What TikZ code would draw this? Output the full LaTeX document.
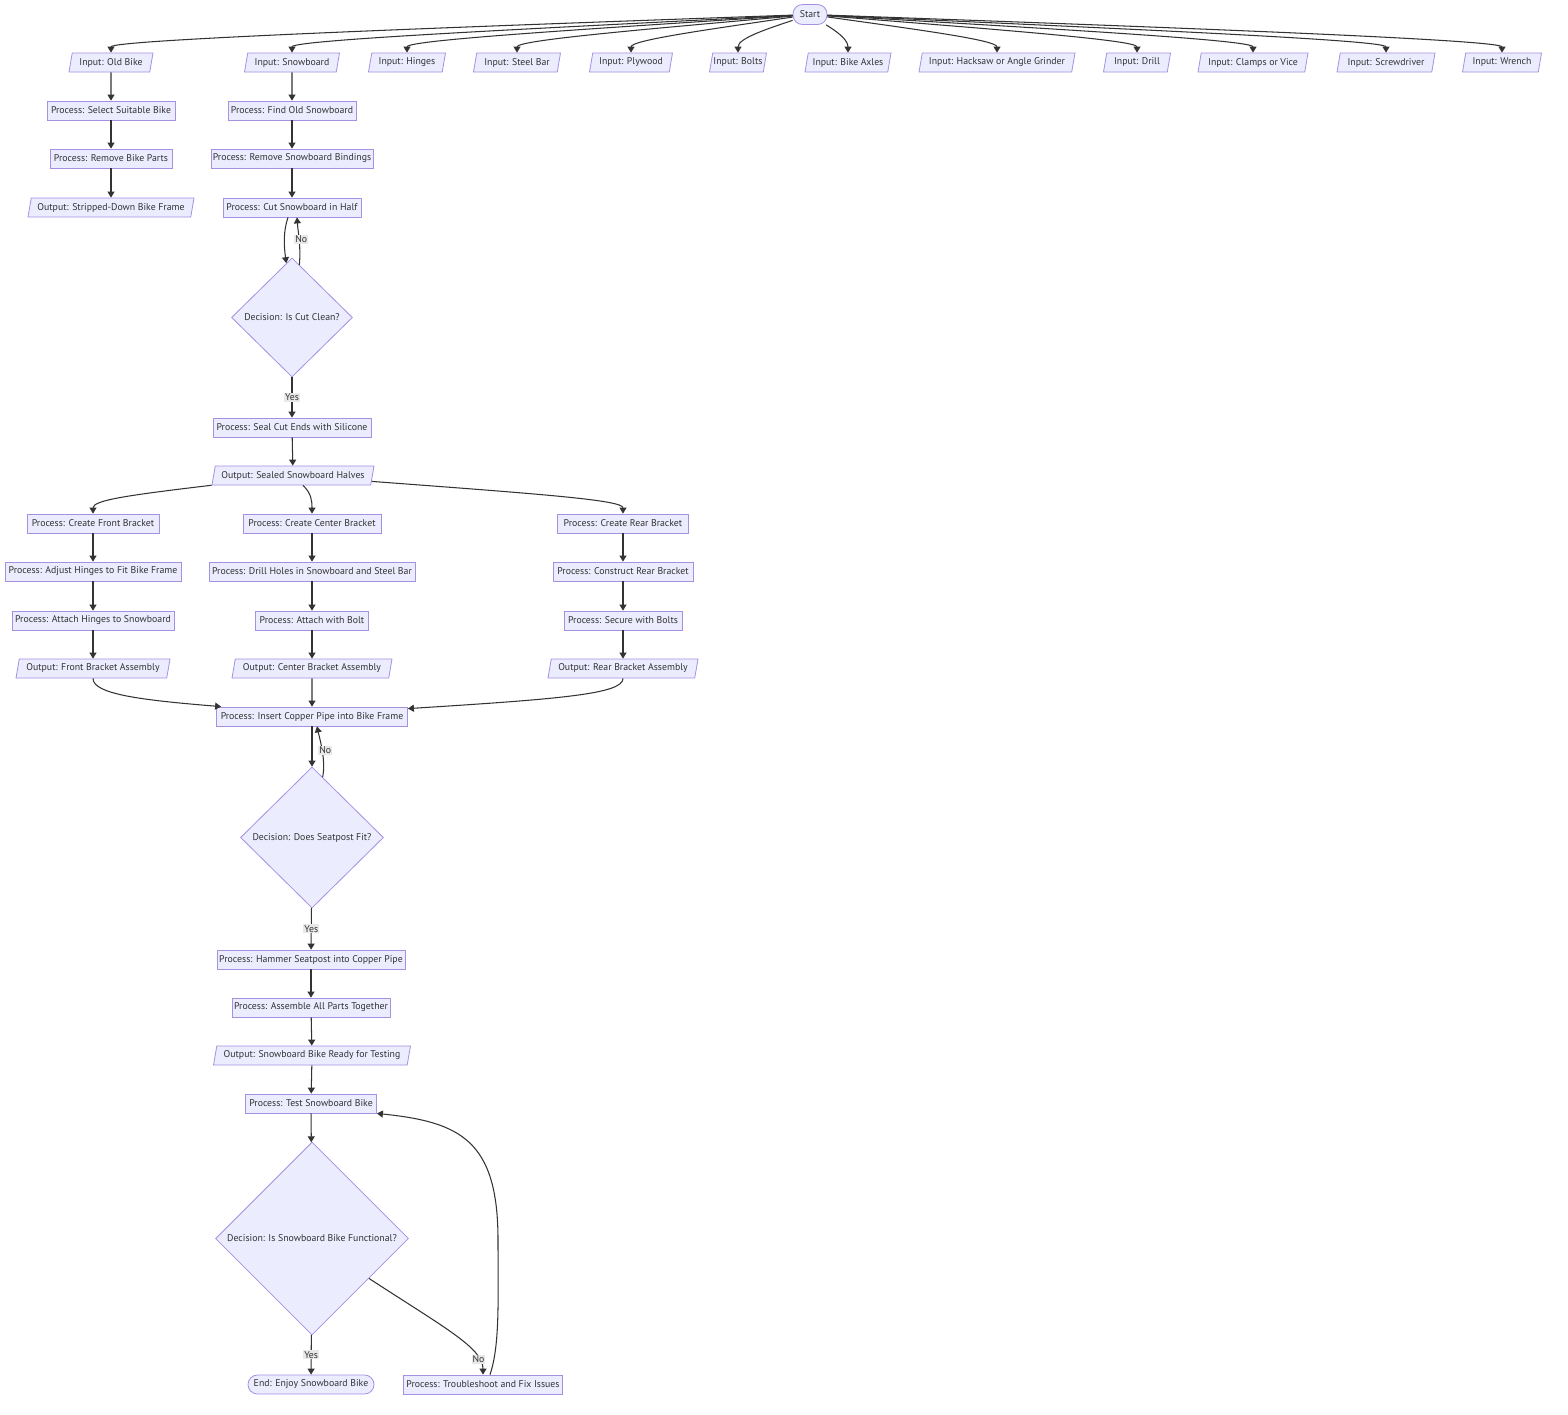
\documentclass[tikz,border=0pt]{standalone}
\usepackage{fontspec}
\setmainfont{PT Sans}
\usetikzlibrary{shapes.geometric,arrows.meta,calc}
\definecolor{mfill}{HTML}{ECECFF}
\definecolor{mborder}{HTML}{A590E2}
\definecolor{mline}{HTML}{333333}
\definecolor{mtext}{HTML}{333333}
\definecolor{mlbl}{HTML}{E8E8E8}
\begin{document}
\begin{tikzpicture}[x=1pt,y=-1pt,
  base/.style={draw=mborder, fill=mfill, line width=0.8pt, text=mtext, font=\fontsize{9.8}{11}\selectfont, inner sep=0pt, minimum height=19pt},
  proc/.style={base, rectangle},
  io/.style={base, trapezium, trapezium left angle=70, trapezium right angle=110, trapezium stretches body},
  term/.style={base, rectangle, rounded corners=9.5pt},
  dec/.style={base, diamond, aspect=1},
  arr/.style={draw=mline, line width=1.05pt, -{Triangle[length=6pt,width=7pt]}},
  lbl/.style={fill=mlbl, text=mtext, inner sep=1pt, font=\fontsize{9.8}{11}\selectfont}
]
\useasboundingbox (0,0) rectangle (1568,1414);
\fill[white] (0,0) rectangle (1568,1414);

% nodes
\node[term, minimum width=34pt, minimum height=20pt] (start) at (810,14.5) {Start};
\node[io, minimum width=84pt] (ob) at (111,62.5) {Input: Old Bike};
\node[io, minimum width=95pt] (sb) at (292,62.5) {Input: Snowboard};
\node[io, minimum width=77pt] (hi) at (407,62.5) {Input: Hinges};
\node[io, minimum width=87pt] (st) at (517,62.5) {Input: Steel Bar};
\node[io, minimum width=83pt] (pw) at (631,62.5) {Input: Plywood};
\node[io, minimum width=57pt] (bo) at (738,62.5) {Input: Bolts};
\node[io, minimum width=86pt] (ax) at (848,62.5) {Input: Bike Axles};
\node[io, minimum width=156pt] (hs) at (997,62.5) {Input: Hacksaw or Angle Grinder};
\node[io, minimum width=67pt] (dr) at (1137,62.5) {Input: Drill};
\node[io, minimum width=110pt] (cv) at (1253,62.5) {Input: Clamps or Vice};
\node[io, minimum width=98pt] (sd) at (1386,62.5) {Input: Screwdriver};
\node[io, minimum width=79pt] (wr) at (1502,62.5) {Input: Wrench};

\node[proc, minimum width=128pt] (ssb) at (111,110.5) {Process: Select Suitable Bike};
\node[proc, minimum width=122pt] (rbp) at (111,158.5) {Process: Remove Bike Parts};
\node[io, minimum width=166pt] (sdf) at (111,207.5) {Output: Stripped-Down Bike Frame};

\node[proc, minimum width=128pt] (fos) at (292,110.5) {Process: Find Old Snowboard};
\node[proc, minimum width=162pt] (rsb) at (292,158.5) {Process: Remove Snowboard Bindings};
\node[proc, minimum width=138pt] (cut) at (292,207.5) {Process: Cut Snowboard in Half};
\node[dec, minimum width=121pt, minimum height=119pt] (d1) at (292,317.5) {Decision: Is Cut Clean?};
\node[proc, minimum width=158pt] (seal) at (292,427.5) {Process: Seal Cut Ends with Silicone};
\node[io, minimum width=162pt] (sh) at (293,475.5) {Output: Sealed Snowboard Halves};

\node[proc, minimum width=132pt] (cfb) at (93,523.5) {Process: Create Front Bracket};
\node[proc, minimum width=176pt] (ahf) at (93,571.5) {Process: Adjust Hinges to Fit Bike Frame};
\node[proc, minimum width=162pt] (ahs) at (93,620.5) {Process: Attach Hinges to Snowboard};
\node[io, minimum width=154pt] (ofb) at (93,668.5) {Output: Front Bracket Assembly};

\node[proc, minimum width=138pt] (ccb) at (312,523.5) {Process: Create Center Bracket};
\node[proc, minimum width=206pt] (dh) at (312,571.5) {Process: Drill Holes in Snowboard and Steel Bar};
\node[proc, minimum width=113pt] (awb) at (312,620.5) {Process: Attach with Bolt};
\node[io, minimum width=160pt] (ocb) at (312,668.5) {Output: Center Bracket Assembly};

\node[proc, minimum width=131pt] (crb) at (623,523.5) {Process: Create Rear Bracket};
\node[proc, minimum width=140pt] (cr) at (623,571.5) {Process: Construct Rear Bracket};
\node[proc, minimum width=118pt] (swb) at (623,620.5) {Process: Secure with Bolts};
\node[io, minimum width=150pt] (orb) at (623,668.5) {Output: Rear Bracket Assembly};

\node[proc, minimum width=191pt] (ins) at (312,716.5) {Process: Insert Copper Pipe into Bike Frame};
\node[dec, minimum width=143pt, minimum height=141pt] (d2) at (312,837.5) {Decision: Does Seatpost Fit?};
\node[proc, minimum width=188pt] (ham) at (311,959.5) {Process: Hammer Seatpost into Copper Pipe};
\node[proc, minimum width=158pt] (asm) at (311,1007.5) {Process: Assemble All Parts Together};
\node[io, minimum width=197pt] (rdy) at (312,1055.5) {Output: Snowboard Bike Ready for Testing};
\node[proc, minimum width=131pt] (test) at (311,1103.5) {Process: Test Snowboard Bike};
\node[dec, minimum width=193pt, minimum height=193pt] (d3) at (312,1238.5) {Decision: Is Snowboard Bike Functional?};
\node[term, minimum width=126pt] (end) at (311,1384.5) {End: Enjoy Snowboard Bike};
\node[proc, minimum width=159pt] (ts) at (483,1384.5) {Process: Troubleshoot and Fix Issues};

% start fan-out
\draw[arr] (start) .. controls (425,28) and (111,40) .. (ob);
\draw[arr] (start) .. controls (525,29) and (292,40) .. (sb);
\draw[arr] (start) .. controls (588,29) and (407,40) .. (hi);
\draw[arr] (start) .. controls (649,29) and (517,40) .. (st);
\draw[arr] (start) .. controls (712,29) and (631,40) .. (pw);
\draw[arr] (start) .. controls (770,28) and (738,38) .. (bo);
\draw[arr] (start) .. controls (831,28) and (848,38) .. (ax);
\draw[arr] (start) .. controls (913,29) and (997,40) .. (hs);
\draw[arr] (start) .. controls (990,29) and (1137,40) .. (dr);
\draw[arr] (start) .. controls (1054,29) and (1253,40) .. (cv);
\draw[arr] (start) .. controls (1127,29) and (1386,40) .. (sd);
\draw[arr] (start) .. controls (1191,28) and (1502,40) .. (wr);

% chains
\draw[arr] (ob) -- (ssb);
\draw[arr] (ssb) -- (rbp);
\draw[arr] (rbp) -- (sdf);
\draw[arr] (sb) -- (fos);
\draw[arr] (fos) -- (rsb);
\draw[arr] (rsb) -- (cut);
\draw[arr] ([xshift=-4pt]cut.south) .. controls (283,232) and (284,246) .. (d1.96);
\draw[arr] (d1.82) .. controls (301,246) and (298,232) .. ([xshift=5pt]cut.south) node[lbl, pos=0.5, xshift=2pt] {No};
\draw[arr] (d1) -- (seal) node[lbl, midway] {Yes};
\draw[arr] (seal) -- (sh);

\draw[arr] (sh) .. controls (130,495) and (93,500) .. (cfb);
\draw[arr] ([xshift=10pt]sh.south) .. controls (311,493) and (312,500) .. (ccb);
\draw[arr] (sh) .. controls (540,494) and (623,500) .. (crb);

\draw[arr] (cfb) -- (ahf);
\draw[arr] (ahf) -- (ahs);
\draw[arr] (ahs) -- (ofb);
\draw[arr] (ccb) -- (dh);
\draw[arr] (dh) -- (awb);
\draw[arr] (awb) -- (ocb);
\draw[arr] (crb) -- (cr);
\draw[arr] (cr) -- (swb);
\draw[arr] (swb) -- (orb);

\draw[arr] (ofb.south) .. controls (93,694) and (140,700) .. ([xshift=5pt]ins.north west);
\draw[arr] (ocb) -- (ins);
\draw[arr] (orb.south) .. controls (623,694) and (560,699) .. ([yshift=-2pt]ins.north east);

\draw[arr] (ins) -- (d2);
\draw[arr] (d2.80) .. controls (326,760) and (320,740) .. ([xshift=5pt]ins.south) node[lbl, pos=0.5, xshift=3pt] {No};
\draw[arr] (d2) -- (ham) node[lbl, midway] {Yes};
\draw[arr] (ham) -- (asm);
\draw[arr] (asm) -- (rdy);
\draw[arr] (rdy) -- (test);
\draw[arr] (test) -- (d3);
\draw[arr] (d3) -- (end) node[lbl, midway] {Yes};
\draw[arr] (d3.-35) .. controls (445,1328) and (483,1348) .. (ts) node[lbl, pos=0.8] {No};
\draw[arr] ([xshift=7pt]ts.north) .. controls (500,1345) and (498,1300) .. (498,1240)
  .. controls (498,1140) and (460,1122) .. (test.south east);
\end{tikzpicture}
\end{document}
